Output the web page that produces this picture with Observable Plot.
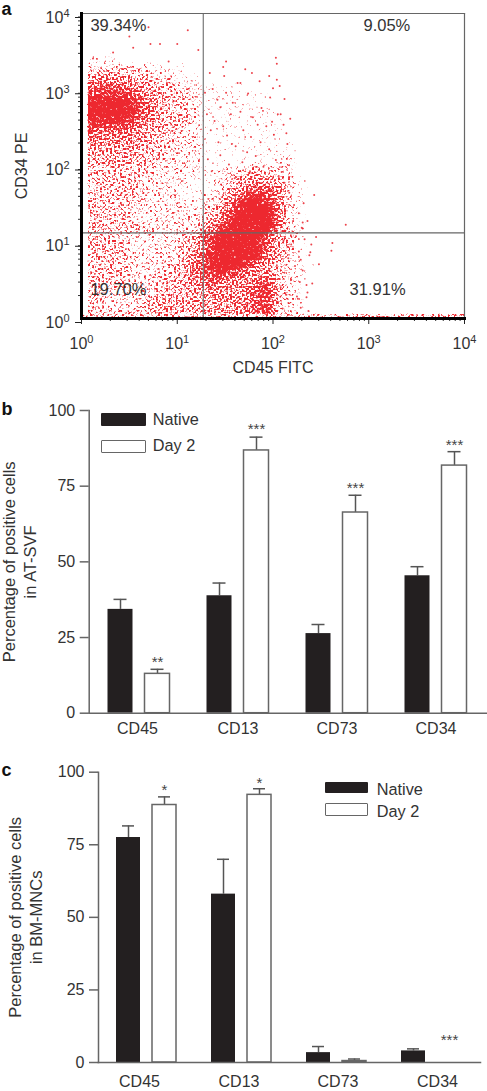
<!DOCTYPE html>
<html><head><meta charset="utf-8">
<script src="https://cdn.jsdelivr.net/npm/d3@7"></script>
<script src="https://cdn.jsdelivr.net/npm/@observablehq/plot@0.6"></script>
<style>
html,body{margin:0;padding:0;background:#fff}
#page{position:relative;width:487px;height:1091px;overflow:hidden;font-family:"Liberation Sans",Arial,sans-serif;color:#333}
#page svg{display:block;position:absolute;left:0;background:transparent}
.lg{position:absolute;font-size:16.3px;line-height:1;white-space:nowrap}
.sw{position:absolute;box-sizing:border-box;border-radius:1px}
.sw.n{background:#231f20}.sw.d{background:#fff;border:1.5px solid #666}
</style></head><body><div id="page"></div>
<script>
// ---- Panel a: quadrant gates, labels
const gateX = 18.7, gateY = 13.3;
const quadrantLabels = ["39.34%", "9.05%", "19.70%", "31.91%"];
const quadrantX = [1.24, 881, 1.24, 631];
const quadrantY = [6900, 6900, 2.4, 2.4];
// Event density: 32 rows (10^4 downward, 1/8 decade) x 22 cols (10^0 rightward, 1/8 decade).
// The raster draws it; an SVG filter renders its tone as grain (a rendering texture, not data).
const densityRows = [
"0000000000000000000000","0000000000000000000000","0000000000000000000000","0000000000000000000000",
"1110000000000000000000","2222221110000000000000","4444332211000000000000","6776543322111100000000",
"8888754332111111000000","9999864332111111000000","9999864332111111100000","8888754332111111100000",
"7666543322111111100000","5555543322111111110000","4444433222111111110000","4444333222111111120000",
"3333332222122343320000","3333322221123454321000","3333322211124677521000","3333322221235898521000",
"3333222222347999621000","3333222222358999621000","3333332222579999521000","3332222234799997431000",
"3333222234799997431000","3333222235899996421000","3333222346899865321100","3333223346787655321000",
"3333223345655578321000","3322233444555578321000","3322234444455578321000","3333334544455578221100"];
const densityTone = [0, .25, .37, .45, .51, .57, .63, .70, .80, .96];
// Individually visible events as log10 x 100 pairs (x, y)
const outlierEvents = [111,378, 72,360, 82,360, 100,360, 50,370, 70,382, 54,355, 151,337, 203,342, 204,334, 204,313, 200,302, 214,243, 243,162, 276,123, 262,99, 261,89, 229,77, 248,71, 237,10, 239,87, 240,97, 231,126, 245,107, 236,34, 235,28, 241,46, 231,118, 228,48, 225,29, 207,305, 212,288, 208,268, 218,262, 196,318, 178,322, 166,309, 148,330, 122,352, 33,349, 12,341, 91,337];
const upperRightGateEvents = [134,322, 137,301, 142,287, 149,318, 151,296, 158,283, 163,309, 166,271, 171,327, 174,295, 179,264, 186,311, 188,276, 193,252, 197,290, 201,241, 205,268, 131,268, 135,247, 139,259, 143,231, 148,252, 152,240, 156,268, 161,226, 169,247, 173,218, 177,238, 182,213, 187,231, 196,222, 203,208, 211,254, 215,229, 132,209, 136,193, 145,214, 154,202, 160,184, 168,205, 176,193, 190,199, 194,178, 209,192, 145,277, 129,296, 184,254, 157,229, 199,258];
const clusterEdgeEvents = [222,149, 227,138, 221,128, 230,119, 224,108, 219,97, 227,88, 216,79, 223,69, 212,60, 219,51, 208,41, 214,31, 205,22, 210,13, 201,6, 209,141, 215,118, 211,102, 204,70, 232,151, 236,128, 233,104, 238,83, 231,63, 235,44, 226,26, 229,14, 217,165, 212,178, 206,187];
const allEvents = [outlierEvents, upperRightGateEvents, clusterEdgeEvents].flat();

// ---- Panels b and c
const markers = ["CD45", "CD13", "CD73", "CD34"];
const seriesNames = ["Native", "Day 2"];
const svfNative = [34.3, 38.8, 26.3, 45.4];
const svfNativeTop = [37.6, 43, 29.3, 48.4];
const svfDay2 = [13, 86.8, 66.3, 81.8];
const svfDay2Top = [14.5, 91.2, 72, 86.4];
const svfStars = ["**", "***", "***", "***"];
const svfStarY = [18, 94.7, 75.2, 89.5];
const mncNative = [77.5, 58, 3.4, 4];
const mncNativeTop = [81.5, 70, 5.5, 4.7];
const mncDay2 = [88.7, 92.2, 0.5, 0];
const mncDay2Top = [91.5, 94.3, 1.2, 0];
const mncStars = ["*", "*", "", "***"];
const mncStarY = [94.8, 97.4, 0, 8.7];
const yTicks = [0, 25, 50, 75, 100];

const FONT = '"Liberation Sans", Arial, sans-serif';
const page = document.getElementById("page");
const place = (svg, top) => { svg.style.top = top + "px"; page.appendChild(svg); return svg; };

// ---------- panel a
const density = densityRows.flatMap((row, r) => [...row].map((c, i) => ({
  x: 10 ** ((i + .5) * .125), y: 10 ** (4 - (r + .5) * .125), d: +c })));
const events = d3.range(0, allEvents.length, 2).map(i => ({x: 10 ** (allEvents[i] / 100), y: 10 ** (allEvents[i + 1] / 100)}));
const decades = [1, 10, 100, 1000, 10000];
const minor = decades.slice(0, 4).flatMap(d => [2,3,4,5,6,7,8,9].map(m => m * d));
const labels = quadrantLabels.map((t, i) => ({t, x: quadrantX[i], y: quadrantY[i]}));
const blank = () => "";
const svgA = Plot.plot({
  width: 487, height: 390, marginLeft: 81, marginRight: 23, marginTop: 13, marginBottom: 72,
  style: {fontFamily: FONT, fontSize: "16px", background: "transparent"},
  x: {type: "log", domain: [1, 1e4], axis: null},
  y: {type: "log", domain: [1, 1e4], axis: null},
  marks: [
    Plot.raster(density, {x: "x", y: "y", fill: "#000", interpolate: "barycentric", pixelSize: 1,
      fillOpacity: d => densityTone[d.d]}),
    Plot.dot(events, {x: "x", y: "y", r: 1, fill: "#e8141e", fillOpacity: .8, stroke: "none"}),
    Plot.ruleX([gateX], {stroke: "#777", strokeWidth: 1.2}),
    Plot.ruleY([gateY], {stroke: "#666", strokeWidth: 1.2}),
    Plot.frame({anchor: "top", stroke: "#666", strokeWidth: 1.2}),
    Plot.frame({anchor: "right", stroke: "#666", strokeWidth: 1.2}),
    Plot.axisX({ticks: minor, tickSize: 3, tickFormat: blank, stroke: "#333", label: null}),
    Plot.axisY({ticks: minor, tickSize: 3, tickFormat: blank, stroke: "#333", label: null}),
    Plot.axisX({ticks: decades, tickSize: 6, tickPadding: 13, tickFormat: d => "10" + Math.log10(d), stroke: "#222", fill: "#333", label: "CD45 FITC", labelAnchor: "center", labelArrow: "none", labelOffset: 54}),
    Plot.axisY({ticks: decades, tickSize: 6, tickPadding: 6, dy: 4, tickFormat: d => "10" + Math.log10(d), stroke: "#222", fill: "#333", label: "CD34 PE", labelAnchor: "center", labelArrow: "none", labelOffset: 66}),
    Plot.frame({anchor: "left", stroke: "#000", strokeWidth: 3}),
    Plot.frame({anchor: "bottom", stroke: "#000", strokeWidth: 3}),
    Plot.text(labels, {x: "x", y: "y", text: "t", textAnchor: "start", fontSize: 16.5, fill: "#333"}),
    Plot.text(["a"], {frameAnchor: "top-left", dx: -80, dy: -11, textAnchor: "start", lineAnchor: "top", fontSize: 18, fontWeight: "bold", fill: "#111"})
  ]
});
place(svgA, 0);
svgA.querySelectorAll('[aria-label$="tick label"] text').forEach(t => {
  const s = t.textContent; if (!/^10\d$/.test(s)) return;
  t.textContent = "10";
  const e = document.createElementNS("http://www.w3.org/2000/svg", "tspan");
  e.setAttribute("dy", "-6"); e.setAttribute("font-size", "11"); e.textContent = s[2]; t.appendChild(e);
});
// Grain filter: tone of the raster + noise, thresholded, flooded with the event colour
const defs = document.createElementNS("http://www.w3.org/2000/svg", "defs");
defs.innerHTML = `<filter id="grain" x="0" y="0" width="100%" height="100%" color-interpolation-filters="sRGB">
  <feTurbulence type="fractalNoise" baseFrequency="0.5" numOctaves="1" seed="11" result="n"/>
  <feColorMatrix in="n" type="matrix" values="0 0 0 0 0  0 0 0 0 0  0 0 0 0 0  1.667 0 0 0 -0.33" result="na"/>
  <feComposite in="SourceAlpha" in2="na" operator="arithmetic" k1="0" k2="1" k3="1" k4="-1" result="sum"/>
  <feComponentTransfer in="sum" result="hard"><feFuncA type="linear" slope="5" intercept="0"/></feComponentTransfer>
  <feComponentTransfer in="SourceAlpha" result="mask"><feFuncA type="linear" slope="30" intercept="0"/></feComponentTransfer>
  <feComposite in="hard" in2="mask" operator="in" result="dots"/>
  <feFlood flood-color="#ec1c24" flood-opacity="0.95"/>
  <feComposite in2="dots" operator="in"/>
  <feGaussianBlur stdDeviation="0.5"/>
</filter>`;
svgA.prepend(defs);
svgA.querySelectorAll('[aria-label="raster"]').forEach(g => g.setAttribute("filter", "url(#grain)"));

// ---------- panels b, c
function barPanel({top, height, marginLeft, marginRight, marginTop, marginBottom, padOuter, align, padInner, off, native, nativeTop, day2, day2Top, stars, starY, ylabel, labelDx, labelX, letter, letterDy, tickPad}) {
  const rows = (vals, tops) => markers.map((m, i) => ({m, v: vals[i], top: tops[i]}));
  const N = rows(native, nativeTop), D = rows(day2, day2Top).filter(r => r.v > 0);
  const S = markers.map((m, i) => ({m, s: stars[i], y: starY[i]})).filter(d => d.s);
  const errs = (data, dx) => [
    Plot.ruleX(data, {x: "m", y1: "v", y2: "top", dx, stroke: "#555", strokeWidth: 1.5}),
    Plot.tickY(data, {x: "m", y: "top", dx, stroke: "#555", strokeWidth: 1.5, insetLeft: 6, insetRight: 6})
  ];
  const svg = Plot.plot({
    width: 487, height, marginLeft, marginRight, marginTop, marginBottom,
    style: {fontFamily: FONT, fontSize: "16px", background: "transparent"},
    x: {domain: markers, paddingInner: padInner, paddingOuter: padOuter, align, axis: null},
    y: {domain: [0, 100], axis: null},
    marks: [
      ...errs(N, -off), ...errs(D, off),
      Plot.barY(N, {x: "m", y: "v", dx: -off, fill: "#231f20"}),
      Plot.barY(D, {x: "m", y: "v", dx: off, fill: "#fff", stroke: "#666", strokeWidth: 1.5}),
      Plot.text(S, {x: "m", y: "y", text: "s", dx: off, dy: 3, fontSize: 15, fill: "#444"}),
      ...markers.map((m, i) => Plot.axisX({ticks: [m], tickSize: 0, tickPadding: tickPad, dx: labelDx[i], fill: "#333", label: null})),
      Plot.axisY({ticks: yTicks, tickSize: 9, tickPadding: 5, stroke: "#666", strokeWidth: 1.5, fill: "#333", label: null}),
      Plot.frame({anchor: "left", stroke: "#666", strokeWidth: 1.5}),
      Plot.frame({anchor: "bottom", stroke: "#666", strokeWidth: 1.5}),
      Plot.text([ylabel], {frameAnchor: "left", dx: labelX - marginLeft, rotate: -90, textAnchor: "middle", fontSize: 16.5, lineHeight: 1.27, fill: "#333"}),
      Plot.text([letter], {frameAnchor: "top-left", dx: 1 - marginLeft, dy: letterDy, textAnchor: "start", lineAnchor: "top", fontSize: 18, fontWeight: "bold", fill: "#111"})
    ]
  });
  place(svg, top);
}
barPanel({top: 390, height: 360, marginLeft: 88.7, marginRight: 0, marginTop: 20, marginBottom: 37.3,
  padInner: .75, padOuter: .377, align: .483, off: 18.5, native: svfNative, nativeTop: svfNativeTop, day2: svfDay2, day2Top: svfDay2Top,
  stars: svfStars, starY: svfStarY, ylabel: "Percentage of positive cells\nin AT-SVF", labelDx: [-1.5, 0, 0, 0], labelX: 18.5, letter: "b", letterDy: -8, tickPad: 9});
barPanel({top: 750, height: 341, marginLeft: 98, marginRight: 7, marginTop: 21.7, marginBottom: 29,
  padInner: .749, padOuter: .3745, align: .49, off: 18, native: mncNative, nativeTop: mncNativeTop, day2: mncDay2, day2Top: mncDay2Top,
  stars: mncStars, starY: mncStarY, ylabel: "Percentage of positive cells\nin BM-MNCs", labelDx: [-7, -2.5, 1.5, 6], labelX: 24.7, letter: "c", letterDy: -9, tickPad: 13});

// ---------- legends
function legend(x, textX, rows) {
  rows.forEach(([name, cls, y0, y1, cy]) => {
    const s = document.createElement("div"); s.className = "sw " + cls;
    s.style.cssText = `left:${x[0]}px;width:${x[1]-x[0]}px;top:${y0}px;height:${y1-y0}px`;
    const t = document.createElement("div"); t.className = "lg"; t.textContent = name;
    t.style.cssText = `left:${textX}px;top:${cy-8}px`;
    page.append(s, t);
  });
}
legend([101, 146], 152.7, [[seriesNames[0], "n", 413, 426, 419.3], [seriesNames[1], "d", 440, 452.5, 445]]);
legend([325, 368], 376.7, [[seriesNames[0], "n", 781.7, 793.5, 789], [seriesNames[1], "d", 802.7, 815.7, 811]]);
</script></body></html>
